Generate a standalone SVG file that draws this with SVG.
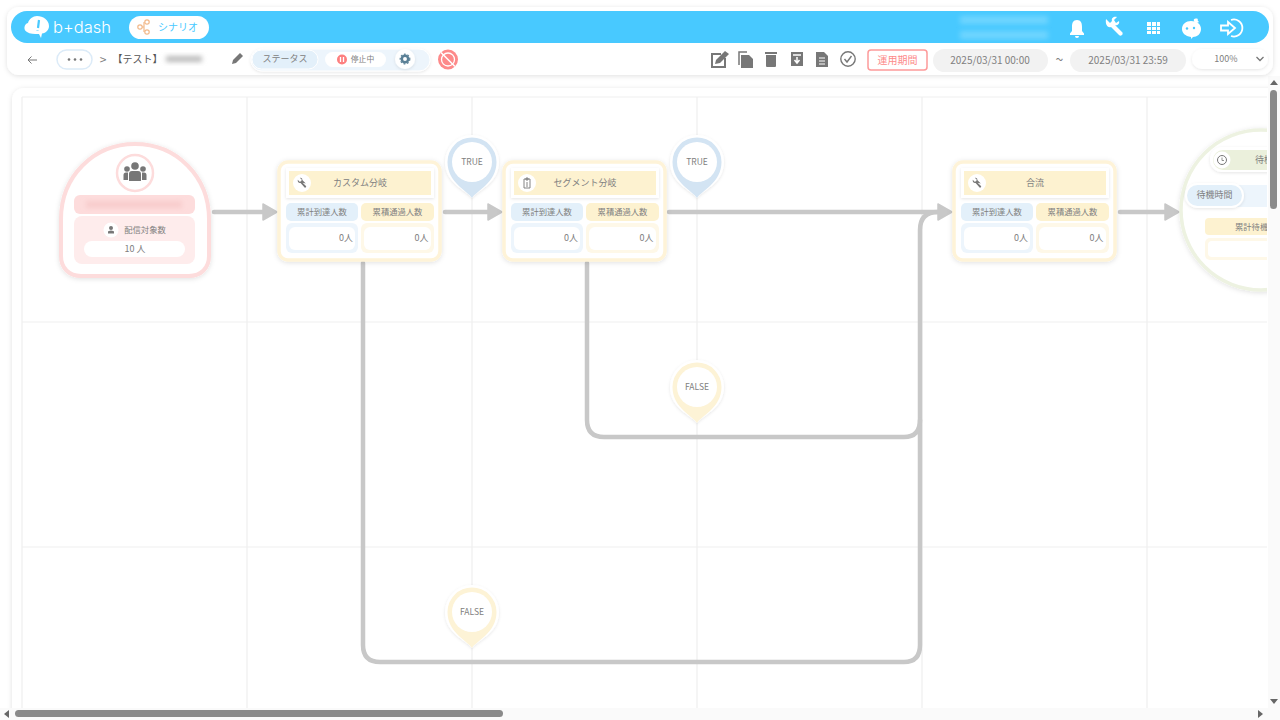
<svg xmlns="http://www.w3.org/2000/svg" xmlns:xlink="http://www.w3.org/1999/xlink" width="1280" height="720" viewBox="0 0 1280 720">
<style>
text{font-family:"Noto Sans CJK JP","Noto Sans",sans-serif;fill:#808080;text-anchor:middle;dominant-baseline:central;transform:translateY(-.6px)}
.s9{font-size:9px}.s10{font-size:10px}.s8{font-size:8.5px}.s83{font-size:8.3px}
.grid{stroke:#efefef;stroke-width:1.2;fill:none}
.conn{stroke:#c8c8c8;stroke-width:4.5;fill:none;stroke-linecap:round}
.head{fill:#c8c8c8}
.card{fill:#fff;stroke:#fef3d8;stroke-width:3.5}
.ttl{fill:#fdf2d0;stroke:#fff;stroke-width:3}
.hb{fill:#e3f0fa}.hy{fill:#fdf2d0}.vb{fill:#edf5fc}.vy{fill:#fef8e8}
.w{fill:#fff}.ic{fill:#777}.wi{fill:#fff}
.pill{fill:#f2f2f2}
</style>
<defs>
<filter id="sh" x="-10%" y="-20%" width="120%" height="140%"><feDropShadow dx="0" dy="1" stdDeviation="2.5" flood-color="#000" flood-opacity=".12"/></filter>
<filter id="sh2" x="-30%" y="-30%" width="160%" height="160%"><feDropShadow dx="0" dy="1" stdDeviation="1.5" flood-color="#000" flood-opacity=".1"/></filter>
<filter id="bl" x="-20%" y="-60%" width="140%" height="220%"><feGaussianBlur stdDeviation="2.5"/></filter>
<clipPath id="cv"><rect x="12" y="88" width="1255" height="620"/></clipPath>
<g id="wrench"><path d="M-5-.5-1.500-4C-2-5.500-.5-6.500 1-6.200L-1-4.200-.3-2.800 1.200-2.200 3-4.200C3.500-2.500 2.200-.5.200-1L-3.800 3.500C-4.500 4.200-6 2.800-5.200 2L-1.800-1.200Z" transform="scale(-1 1) translate(1.200 1)" class="ic"/></g>
<g id="pinT"><path d="M0 36C-4 29-27 22-27 0A27 27 0 0 1 27 0C27 22 4 29 0 36Z" fill="#fff" filter="url(#sh2)"/><path d="M0 36C-4 29-24.500 21-24.500 0A24.500 24.500 0 0 1 24.500 0C24.500 21 4 29 0 36Z" fill="#d3e4f3"/><circle r="20" fill="#fff"/></g>
<g id="pinF"><path d="M0 36C-4 29-27 22-27 0A27 27 0 0 1 27 0C27 22 4 29 0 36Z" fill="#fff" filter="url(#sh2)"/><path d="M0 36C-4 29-24.500 21-24.500 0A24.500 24.500 0 0 1 24.500 0C24.500 21 4 29 0 36Z" fill="#fdf3d6"/><circle r="20" fill="#fff"/></g>
</defs>
<rect width="1280" height="720" fill="#fff"/>

<g id="canvas-panel">
<rect x="12" y="88" width="1270" height="640" rx="12" fill="#fff" filter="url(#sh)"/>
<g clip-path="url(#cv)">
<path class="grid" d="M22 97H1267M22 322H1267M22 547H1267M22 97V708M247 97V708M472 97V708M697 97V708M922 97V708M1147 97V708"/>
</g>
</g>

<g id="connectors">
<path class="conn" d="M214 212H264M445 212H489M669 212H938M1120 212H1165"/>
<path class="conn" d="M363 263V645Q363 662 380 662H904Q920 662 920 645V230Q920 212 938 212"/>
<path class="conn" d="M587 263V420Q587 437 604 437H904Q920 437 920 420"/>
<path class="head" d="M263 204 277 212 263 220ZM488 204 502 212 488 220ZM938 204 952 212 938 220ZM1165 204 1179 212 1165 220Z" stroke="#c8c8c8" stroke-width="1.500" stroke-linejoin="round"/>
</g>

<g id="node-start">
<path d="M135 144C93 144 61 177 61 219V256C61 268 69 276 81 276H189C201 276 209 268 209 256V219C209 177 177 144 135 144Z" fill="#fff" stroke="#fddcdc" stroke-width="4" filter="url(#sh)"/>
<circle cx="135" cy="173" r="18" fill="#fff" stroke="#fddcdc" stroke-width="2.500"/>
<g class="ic"><circle cx="135" cy="166" r="3.800"/><circle cx="127" cy="169" r="2.800"/><circle cx="143" cy="169" r="2.800"/><path d="M129 181V174Q129 171 132 171H138Q141 171 141 174V181ZM123.500 180V175Q123.500 172.500 126 172.500H128V180ZM146.500 180V175Q146.500 172.500 144 172.500H142V180Z"/></g>
<rect x="74" y="195" width="121" height="19" rx="6" fill="#fddcdc"/>
<rect x="86" y="201" width="96" height="7" fill="#f8cccc" filter="url(#bl)"/>
<rect x="74" y="216" width="121" height="48" rx="8" fill="#feecec"/>
<circle cx="111" cy="230" r="7.500" class="w"/>
<path class="ic" d="M108 233.500V232Q108 230.500 111 230.500T114 232V233.500ZM111 226A2 2 0 1 0 111 230 2 2 0 1 0 111 226Z"/>
<text x="145" y="230" class="s83">配信対象数</text>
<rect x="84" y="241" width="101" height="16" rx="8" class="w"/>
<text x="135" y="249" class="s9">10 人</text>
</g>

<g id="node-custom-branch">
<rect x="279" y="162" width="161" height="98" rx="9" class="card" filter="url(#sh)"/>
<rect x="287.500" y="169.500" width="145" height="27" class="ttl" filter="url(#sh2)"/>
<circle cx="302" cy="183" r="9" class="w"/><use xlink:href="#wrench" href="#wrench" x="302" y="183"/>
<text x="360" y="183" class="s9">カスタム分岐</text>
<rect x="286" y="203" width="72" height="18" rx="5" class="hb"/><rect x="361" y="203" width="73" height="18" rx="5" class="hy"/>
<text x="322" y="212" class="s83">累計到達人数</text><text x="397.500" y="212" class="s83">累積通過人数</text>
<rect x="286" y="223" width="72" height="30" rx="6" class="vb"/><rect x="361" y="223" width="73" height="30" rx="6" class="vy"/>
<rect x="289" y="227" width="66" height="23" rx="6" class="w"/><rect x="364" y="227" width="67" height="23" rx="6" class="w"/>
<text x="353" y="238" class="s9" style="text-anchor:end">0人</text><text x="428.500" y="238" class="s9" style="text-anchor:end">0人</text>
</g>

<g id="node-segment-branch">
<rect x="504" y="162" width="161" height="98" rx="9" class="card" filter="url(#sh)"/>
<rect x="512.500" y="169.500" width="145" height="27" class="ttl" filter="url(#sh2)"/>
<circle cx="527" cy="183" r="9" class="w"/>
<path d="M524 179H530V188H524ZM526 178H528V180H526ZM527 182V185M526 186H528" fill="none" stroke="#777" stroke-width=".9"/>
<text x="585" y="183" class="s9">セグメント分岐</text>
<rect x="511" y="203" width="72" height="18" rx="5" class="hb"/><rect x="586" y="203" width="73" height="18" rx="5" class="hy"/>
<text x="547" y="212" class="s83">累計到達人数</text><text x="622.500" y="212" class="s83">累積通過人数</text>
<rect x="511" y="223" width="72" height="30" rx="6" class="vb"/><rect x="586" y="223" width="73" height="30" rx="6" class="vy"/>
<rect x="514" y="227" width="66" height="23" rx="6" class="w"/><rect x="589" y="227" width="67" height="23" rx="6" class="w"/>
<text x="578" y="238" class="s9" style="text-anchor:end">0人</text><text x="653.500" y="238" class="s9" style="text-anchor:end">0人</text>
</g>

<g id="node-merge">
<rect x="954" y="162" width="161" height="98" rx="9" class="card" filter="url(#sh)"/>
<rect x="962.500" y="169.500" width="145" height="27" class="ttl" filter="url(#sh2)"/>
<circle cx="977" cy="183" r="9" class="w"/><use xlink:href="#wrench" href="#wrench" x="977" y="183"/>
<text x="1035" y="183" class="s9">合流</text>
<rect x="961" y="203" width="72" height="18" rx="5" class="hb"/><rect x="1036" y="203" width="73" height="18" rx="5" class="hy"/>
<text x="997" y="212" class="s83">累計到達人数</text><text x="1072.500" y="212" class="s83">累積通過人数</text>
<rect x="961" y="223" width="72" height="30" rx="6" class="vb"/><rect x="1036" y="223" width="73" height="30" rx="6" class="vy"/>
<rect x="964" y="227" width="66" height="23" rx="6" class="w"/><rect x="1039" y="227" width="67" height="23" rx="6" class="w"/>
<text x="1028" y="238" class="s9" style="text-anchor:end">0人</text><text x="1103.500" y="238" class="s9" style="text-anchor:end">0人</text>
</g>

<g id="node-wait" clip-path="url(#cv)">
<circle cx="1261" cy="210" r="80" fill="#fff" stroke="#edf2e1" stroke-width="3.500" filter="url(#sh)"/>
<rect x="1210" y="147" width="80" height="25" rx="12" fill="#fff" filter="url(#sh2)"/>
<rect x="1213" y="150" width="80" height="20" rx="10" fill="#ebf0dc"/>
<circle cx="1222" cy="160" r="8.500" class="w"/>
<circle cx="1222" cy="160" r="4.500" fill="none" stroke="#777"/><path d="M1222 157.500V160.500H1224" fill="none" stroke="#777" stroke-width=".8"/>
<text x="1255" y="160" class="s9" style="text-anchor:start">待機</text>
<rect x="1200" y="185" width="100" height="22" fill="#edf5fc"/>
<rect x="1186" y="184" width="57" height="23" rx="11.500" fill="#e3f0fa" stroke="#fff" stroke-width="2" filter="url(#sh2)"/>
<text x="1214.500" y="195.500" class="s9">待機時間</text>
<rect x="1205" y="218" width="90" height="17" rx="4" class="hy"/>
<text x="1235" y="226.500" class="s83" style="text-anchor:start">累計待機</text>
<rect x="1205" y="238" width="90" height="22" rx="5" class="vy"/>
<rect x="1208" y="241" width="90" height="16" rx="4" class="w"/>
</g>

<g id="pin-true-1"><use xlink:href="#pinT" href="#pinT" x="472" y="162"/><text x="472" y="162" class="s8">TRUE</text></g>
<g id="pin-true-2"><use xlink:href="#pinT" href="#pinT" x="697" y="162"/><text x="697" y="162" class="s8">TRUE</text></g>
<g id="pin-false-1"><use xlink:href="#pinF" href="#pinF" x="697" y="387"/><text x="697" y="387" class="s8">FALSE</text></g>
<g id="pin-false-2"><use xlink:href="#pinF" href="#pinF" x="472" y="612"/><text x="472" y="612" class="s8">FALSE</text></g>

<g id="scrollbars">
<rect x="1268" y="76" width="12" height="644" fill="#fafafa"/>
<rect x="0" y="708" width="1280" height="12" fill="#fafafa"/>
<rect x="1270" y="90" width="7" height="119" rx="3.500" fill="#8a8a8a"/>
<rect x="15" y="710" width="488" height="7" rx="3.500" fill="#8a8a8a"/>
<path fill="#666" d="M1274 80 1278 85H1270ZM1274 704 1278 699H1270ZM4 714 9 710V718ZM1263 714 1258 710V718Z"/>
</g>

<g id="top-panel">
<rect x="7" y="7" width="1266" height="68" rx="12" fill="#fff" filter="url(#sh)"/>
<rect x="11" y="11" width="1258" height="32" rx="16" fill="#48c9ff"/>
<path class="wi" d="M37 16C43 16 49 20 49 26 49 30 46 33 42 33.500L41 38 39 34C34 34 30 34 27 32 23 30 24 24 28 23 29 19 33 16 37 16Z"/>
<path d="M39 20 38 28M37.500 30.500V31" stroke="#48c9ff" stroke-width="2.200" fill="none"/>
<text x="82" y="28" style="font-family:Inter,'Noto Sans',sans-serif;font-size:16.500px;fill:#fff;font-weight:300">b+dash</text>
<rect x="129" y="16" width="80" height="23" rx="11.500" fill="#fff"/>
<g fill="none" stroke="#f2b98a" stroke-width="1.200"><circle cx="140" cy="27" r="2.200"/><circle cx="147" cy="22" r="2.200"/><circle cx="147" cy="32" r="2.200"/><path d="M142 27H144M144 22V32"/></g>
<text x="178" y="27.500" class="s10" style="fill:#48c9ff">シナリオ</text>
<rect x="960" y="16" width="88" height="8" fill="#8fdfff" opacity=".55" filter="url(#bl)"/>
<rect x="960" y="31" width="88" height="8" fill="#8fdfff" opacity=".55" filter="url(#bl)"/>
<path class="wi" d="M1077 20C1081 20 1082 23 1082 27V31L1084 33.500V35H1070V33.500L1072 31V27C1072 23 1073 20 1077 20ZM1075 36H1079Q1079 38 1077 38T1075 36Z"/>
<path class="wi" d="M1106 20 1110 24 1112 22C1111 19 1114 17 1117 18L1114 21 1116 24 1119 22C1120 25 1117 27 1115 26L1122 33C1124 35 1121 38 1119 36L1111 28C1108 29 1105 26 1106 20Z" transform="translate(0 -1)"/>
<path class="wi" d="M1147 22H1151V26H1147ZM1152 22H1156V26H1152ZM1157 22H1160V26H1157ZM1147 27H1151V30H1147ZM1152 27H1156V30H1152ZM1157 27H1160V30H1157ZM1147 31H1151V34H1147ZM1152 31H1156V34H1152ZM1157 31H1160V34H1157Z"/>
<path class="wi" d="M1191 21C1197 21 1201 24 1201 29 1201 34 1197 37 1193 37L1191 39V37C1185 36 1182 33 1182 29 1182 24 1186 21 1191 21ZM1194 21C1193 19 1195 18 1198 19 1197 20 1198 21 1199 22L1197 23Z"/>
<circle cx="1187" cy="28.500" r="1.200" fill="#48c9ff"/><circle cx="1194" cy="28" r="1.200" fill="#48c9ff"/>
<g fill="none" stroke="#fff" stroke-width="1.800"><path d="M1231 20A8.500 8.500 0 1 1 1231 36"/><path d="M1221 25.500H1228V22L1235 28 1228 34V30.500H1221Z"/></g>

<path d="M37 60H28M31.500 56.500 28 60 31.500 63.500" fill="none" stroke="#777" stroke-width="1"/>
<rect x="57" y="50" width="35" height="19" rx="9.500" fill="#fff" stroke="#dcebf8" stroke-width="1.500"/>
<g fill="#777"><circle cx="69" cy="59.500" r="1.300"/><circle cx="75" cy="59.500" r="1.300"/><circle cx="81" cy="59.500" r="1.300"/></g>
<text x="103" y="59.500" style="font-size:12px">&gt;</text>
<text x="137.500" y="59.500" class="s10" style="fill:#555">【テスト】</text>
<rect x="166" y="56" width="36" height="6" fill="#bbb" filter="url(#bl)"/>
<path class="ic" d="M232 64 233 60 240 53 243 56 236 63Z"/>
<rect x="251" y="49" width="179" height="22" rx="11" fill="#edf5fc" stroke="#fff" filter="url(#sh2)"/>
<rect x="252" y="50" width="66" height="19" rx="9.500" fill="#e3f0fa" stroke="#fff"/>
<text x="285" y="59.500" class="s9">ステータス</text>
<rect x="325" y="52" width="61" height="15" rx="7.500" fill="#fff"/>
<circle cx="342" cy="59.500" r="5" fill="#fd7f7f"/><path d="M340.500 57V62M343.500 57V62" stroke="#fff" stroke-width="1.300"/>
<text x="362.500" y="59" style="font-size:7.800px">停止中</text>
<circle cx="405" cy="59" r="10" fill="#fff" filter="url(#sh2)"/>
<circle cx="405" cy="59" r="3.200" fill="none" stroke="#5b8096" stroke-width="2.500"/>
<circle cx="405" cy="59" r="4.800" fill="none" stroke="#5b8096" stroke-width="1.200" stroke-dasharray="1.800 1.700"/>
<circle cx="448" cy="59.500" r="10" fill="#fd8a8a"/>
<circle cx="448" cy="59.500" r="6.500" fill="none" stroke="#fff" stroke-width="1.300"/>
<path d="M441 52.500 455 66.500" stroke="#fff" stroke-width="1.500"/>

<path d="M721 54H712V67H725V58" fill="none" stroke="#777" stroke-width="2"/><path class="ic" d="M716 60 725 51 729 54 720 63 715 64Z"/>
<path class="ic" d="M741 55H749L753 59V68H741Z"/><path d="M739 65V52H747" fill="none" stroke="#777" stroke-width="1.500"/>
<path class="ic" d="M766 55H776V66Q776 67 775 67H767Q766 67 766 66ZM765 52H777V54H765Z"/>
<path class="ic" d="M791 52H803V66H791Z"/><path d="M793 55H801M797 57V63M794.500 60 797 63 799.500 60" fill="none" stroke="#fff" stroke-width="1.500"/>
<path class="ic" d="M816 52H824L828 56V67H816Z"/><path d="M819 58H825M819 61H825M819 64H825" stroke="#fff"/>
<circle cx="848" cy="59" r="7.200" fill="none" stroke="#777" stroke-width="1.400"/><path d="M844.500 59 847 62 851.500 56" fill="none" stroke="#777" stroke-width="1.400"/>
<rect x="868" y="50" width="59" height="20" rx="3" fill="#fff" stroke="#fd9a9a" stroke-width="1.500"/>
<text x="897.500" y="60" class="s10" style="fill:#fd8a8a">運用期間</text>
<rect x="933" y="49" width="115" height="23" rx="11.500" class="pill"/>
<text x="990" y="60" class="s10">2025/03/31 00:00</text>
<text x="1059.500" y="60" style="font-size:14px">~</text>
<rect x="1070" y="49" width="116" height="23" rx="11.500" class="pill"/>
<text x="1128" y="60" class="s10">2025/03/31 23:59</text>
<rect x="1192" y="49" width="76" height="20" rx="10" fill="#fff" filter="url(#sh2)"/>
<text x="1226" y="59" class="s9">100%</text>
<path d="M1256.500 57 1260 60.500 1263.500 57" fill="none" stroke="#777" stroke-width="1.300"/>
</g>
</svg>
